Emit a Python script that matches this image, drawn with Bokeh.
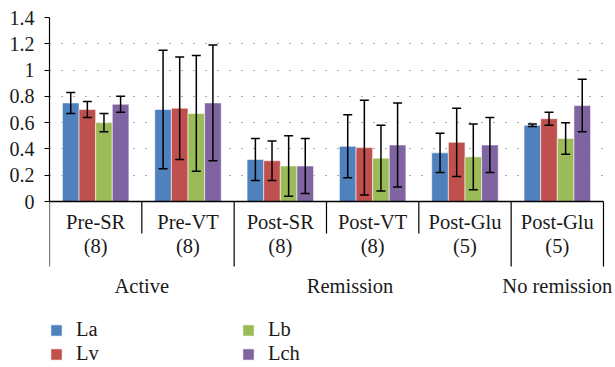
import numpy as np
from bokeh.plotting import figure
from bokeh.models import (ColumnDataSource, Range1d, FixedTicker, NumeralTickFormatter,
                          Whisker, TeeHead, Legend, LegendItem)
from bokeh.core.properties import value
from bokeh.embed import file_html
from bokeh.resources import INLINE

# ---------------- data ----------------
categories = ["Pre-SR\n(8)", "Pre-VT\n(8)", "Post-SR\n(8)", "Post-VT\n(8)",
              "Post-Glu\n(5)", "Post-Glu\n(5)"]
groups = ["Active", "Remission", "No remission"]
group_sizes = [2, 3, 1]
series = ["La", "Lv", "Lb", "Lch"]

la = [0.75, 0.70, 0.32, 0.42, 0.37, 0.58]
lv = [0.70, 0.71, 0.31, 0.41, 0.45, 0.63]
lb = [0.60, 0.67, 0.27, 0.33, 0.34, 0.48]
lch = [0.74, 0.75, 0.27, 0.43, 0.43, 0.73]

la_err = [0.08, 0.45, 0.16, 0.24, 0.15, 0.01]
lv_err = [0.06, 0.39, 0.15, 0.36, 0.26, 0.05]
lb_err = [0.07, 0.44, 0.23, 0.25, 0.25, 0.12]
lch_err = [0.06, 0.44, 0.21, 0.32, 0.21, 0.20]

y_ticks = [0, 0.2, 0.4, 0.6, 0.8, 1.0, 1.2, 1.4]

# ---------------- styling ----------------
colors = ["#4F81BD", "#C0504D", "#9BBB59", "#8064A2"]
FONT = "Liberation Serif"
TXT = "#1a1a1a"

W, H = 613, 365
left, top = 49, 17
px_per_cat = 92.33
px_per_unit = 131.43
frame_w = W - left
frame_h = H - top
y_start = 1.4 - frame_h / px_per_unit
x_end = frame_w / px_per_cat

p = figure(width=W, height=H, output_backend="svg", toolbar_location=None,
           x_range=Range1d(0, x_end), y_range=Range1d(y_start, 1.4),
           min_border_left=left, min_border_top=top, min_border_right=0,
           min_border_bottom=0, tools="")
p.outline_line_color = None
p.background_fill_color = "white"
p.border_fill_color = "white"
p.xaxis.visible = False
p.xgrid.visible = False

# y axis
p.yaxis.ticker = FixedTicker(ticks=y_ticks)
p.yaxis.formatter = NumeralTickFormatter(format="0.[0]")
p.yaxis.bounds = (0, 1.4)
p.yaxis.axis_line_color = "black"
p.yaxis.axis_line_width = 1.2
p.yaxis.major_tick_line_color = "black"
p.yaxis.major_tick_in = 0
p.yaxis.major_tick_out = 5
p.yaxis.minor_tick_line_color = None
p.yaxis.major_label_text_font = FONT
p.yaxis.major_label_text_font_size = "20px"
p.yaxis.major_label_text_color = TXT
p.yaxis.major_label_standoff = 10

p.ygrid.ticker = FixedTicker(ticks=y_ticks[1:])
p.ygrid.grid_line_color = "#555555"
p.ygrid.grid_line_dash = "1 11"
p.ygrid.grid_line_width = 1.2

# bars
n = len(categories)
base = np.arange(n) + 0.5
bw = 0.18
vals = [la, lv, lb, lch]
errs = [la_err, lv_err, lb_err, lch_err]
renderers = []
for j, (name, v, e) in enumerate(zip(series, vals, errs)):
    xs = base + (j - 1.5) * bw
    v = np.array(v)
    e = np.array(e)
    src = ColumnDataSource(dict(x=xs, top=v, upper=v + e, lower=v - e))
    r = p.vbar(x="x", top="top", width=bw, source=src, fill_color=colors[j],
               line_color="white", line_alpha=0.7, line_width=0.8)
    renderers.append(r)
    wk = Whisker(base="x", upper="upper", lower="lower", source=src,
                 line_color="black", line_width=1.5, level="annotation",
                 upper_head=TeeHead(size=9, line_color="black", line_width=1.5),
                 lower_head=TeeHead(size=9, line_color="black", line_width=1.5))
    p.add_layout(wk)

# baseline and category separators
short_y = -32 / px_per_unit
long_y = -65 / px_per_unit
bounds_x = np.arange(n + 1)
group_edges = set(np.cumsum([0] + group_sizes).tolist())
sep_y = [long_y if b in group_edges else short_y for b in bounds_x]
p.segment(x0=[0], y0=[0], x1=[n], y1=[0], line_color="black", line_width=1.5)
p.segment(x0=bounds_x, y0=[0] * (n + 1), x1=bounds_x, y1=sep_y,
          line_color="black", line_width=1.2)

# category labels
p.text(x=base, y=[-32.5 / px_per_unit] * n, text=categories,
       text_font=value(FONT), text_font_size="20.5px", text_color=TXT,
       text_align="center", text_baseline="middle", text_line_height=1.12)

# group labels
group_x = [1.0, 3.255, 5.5]
p.text(x=group_x, y=[-84 / px_per_unit] * len(groups), text=groups,
       text_font=value(FONT), text_font_size="20.5px", text_color=TXT,
       text_align="center", text_baseline="middle")

# legends (two columns)
def make_legend(items, x):
    lg = Legend(items=items, location=(x, 0), orientation="vertical",
                glyph_width=14, glyph_height=14, label_standoff=13,
                label_text_font=FONT, label_text_font_size="20.5px",
                label_text_color=TXT, spacing=1, padding=0, margin=0,
                border_line_color=None, background_fill_alpha=0)
    return lg

lg1 = make_legend([LegendItem(label=series[0], renderers=[renderers[0]]),
                   LegendItem(label=series[1], renderers=[renderers[1]])], 0)
lg2 = make_legend([LegendItem(label=series[2], renderers=[renderers[2]]),
                   LegendItem(label=series[3], renderers=[renderers[3]])], 192)
p.add_layout(lg1, "center")
p.add_layout(lg2, "center")

open("out.html", "w").write(file_html(p, INLINE))
